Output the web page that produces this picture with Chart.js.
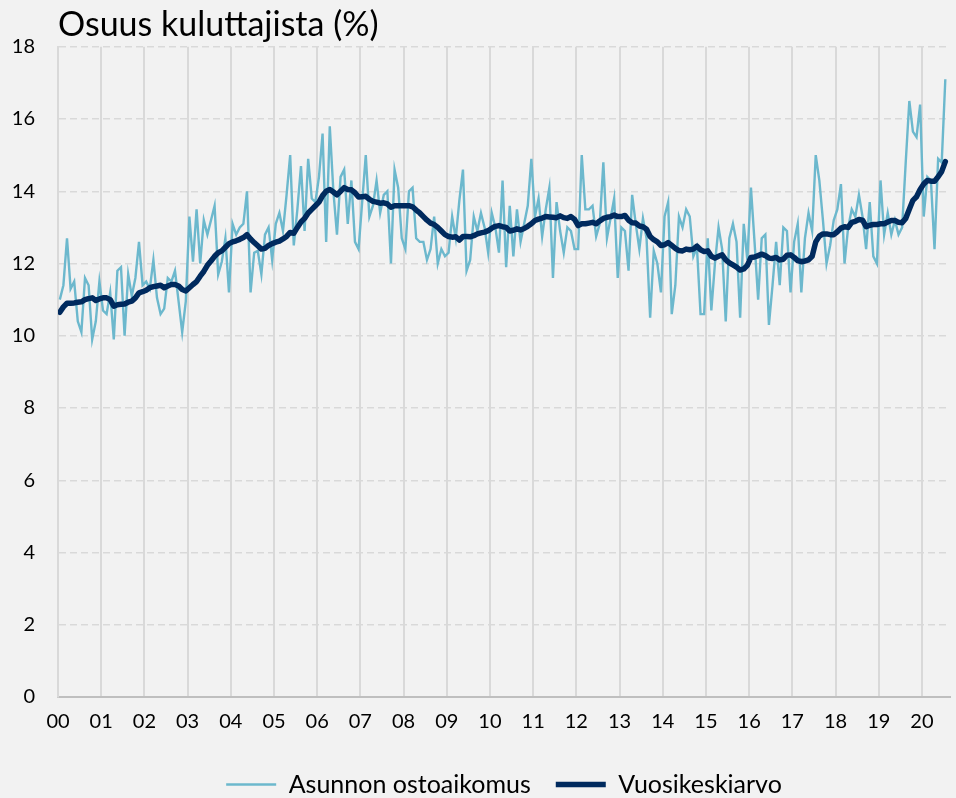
<!DOCTYPE html>
<html>
<head>
<meta charset="utf-8">
<script src="https://cdn.jsdelivr.net/npm/chart.js@4/dist/chart.umd.min.js"></script>
<style>
  html, body { margin: 0; padding: 0; background: #f2f2f2; }
  #wrap { width: 956px; height: 798px; }
</style>
</head>
<body>
<div id="wrap"><canvas id="c" width="956" height="798"></canvas></div>
<script>
// Year tick labels (January of each year)
const yearLabels = ['00','01','02','03','04','05','06','07','08','09','10','11','12','13','14','15','16','17','18','19','20'];

// Monthly series, Jan 2000 - Jul 2020
const asunnonOstoaikomus = [
  11.0, 11.4, 12.7, 11.3, 11.5, 10.4, 10.1, 11.6, 11.4, 9.9, 10.4, 11.5,
  10.7, 10.6, 11.2, 9.9, 11.8, 11.9, 10.0, 11.7, 11.1, 11.6, 12.6, 11.4,
  11.5, 11.3, 12.1, 11.05, 10.6, 10.75, 11.6, 11.5, 11.8, 10.95, 10.1, 10.95,
  13.3, 12.05, 13.5, 12.0, 13.2, 12.8, 13.2, 13.6, 11.7, 12.05, 12.7, 11.2,
  13.1, 12.8, 13.0, 13.1, 14.0, 11.2, 12.3, 12.35, 11.7, 12.8, 13.0, 12.1,
  13.1, 13.4, 12.9, 13.9, 15.0, 12.5, 13.5, 14.7, 12.9, 14.9, 13.8, 13.7,
  14.4, 15.6, 12.6, 15.8, 14.0, 12.8, 14.4, 14.6, 13.1, 14.3, 12.6, 12.4,
  13.7, 15.0, 13.3, 13.6, 14.3, 13.4, 13.9, 14.0, 12.0, 14.6, 14.1, 12.7,
  12.4, 14.0, 14.1, 12.7, 12.6, 12.6, 12.1, 12.4, 13.3, 12.0, 12.4, 12.2,
  12.3, 13.3, 12.7, 13.75, 14.6, 11.8, 12.1, 13.3, 12.9, 13.4, 13.0, 12.3,
  13.4, 13.0, 12.3, 14.3, 11.9, 13.6, 12.2, 13.5, 12.6, 13.1, 13.6, 14.9,
  13.3, 13.8, 12.75, 13.5, 14.1, 11.6, 13.7, 12.9, 12.3, 13.0, 12.9, 12.4,
  12.4, 15.0, 13.5, 13.5, 13.6, 12.75, 13.1, 14.8, 12.7, 13.25, 13.8, 11.6,
  13.0, 12.9, 11.8, 13.9, 13.1, 12.4, 13.25, 12.7, 10.5, 12.35, 12.0, 11.2,
  13.3, 13.7, 10.6, 11.4, 13.3, 13.0, 13.5, 13.3, 12.2, 12.45, 10.6, 10.6,
  12.7, 10.7, 12.0, 13.0, 12.4, 10.4, 12.7, 13.1, 12.6, 10.5, 13.1, 12.1,
  14.1, 12.6, 11.0, 12.7, 12.8, 10.3, 11.4, 12.6, 11.4, 13.0, 12.9, 11.2,
  12.6, 13.1, 11.2, 12.7, 13.4, 12.9, 15.0, 14.3, 13.2, 12.0, 12.5, 13.2,
  13.5, 14.2, 12.0, 13.0, 13.5, 13.3, 13.9, 13.3, 12.4, 13.7, 12.2, 12.0,
  14.3, 12.8, 13.4, 12.8, 13.2, 12.8, 13.0, 14.8, 16.5, 15.65, 15.5, 16.4,
  13.3, 14.4, 14.3, 12.4, 14.9, 14.8, 17.1
];

const vuosikeskiarvo = [
  10.65, 10.8, 10.9, 10.9, 10.91, 10.93, 10.94, 11.0, 11.03, 11.05, 10.98, 11.02,
  11.05, 11.05, 11.0, 10.82, 10.86, 10.87, 10.88, 10.93, 10.96, 11.05, 11.19, 11.22,
  11.26, 11.33, 11.36, 11.38, 11.4, 11.33, 11.38, 11.42, 11.42, 11.38, 11.28, 11.24,
  11.33, 11.42, 11.5, 11.65, 11.78, 11.95, 12.07, 12.2, 12.3, 12.35, 12.45, 12.55,
  12.6, 12.63, 12.67, 12.72, 12.8, 12.68, 12.58, 12.49, 12.4, 12.42, 12.5, 12.55,
  12.59, 12.62, 12.68, 12.75, 12.86, 12.84, 13.0, 13.15, 13.25, 13.4, 13.5, 13.6,
  13.7, 13.88, 14.0, 14.05, 13.98, 13.9, 14.0, 14.1, 14.05, 14.04, 13.96, 13.84,
  13.85, 13.86, 13.78, 13.72, 13.7, 13.67, 13.68, 13.65, 13.56, 13.6, 13.6, 13.6,
  13.6, 13.6, 13.57, 13.48, 13.4, 13.3, 13.2, 13.12, 13.08, 13.0, 12.9, 12.8,
  12.75, 12.73, 12.74, 12.65, 12.75, 12.75, 12.74, 12.77, 12.82, 12.85, 12.87, 12.91,
  12.98, 13.03, 13.05, 13.02, 13.0, 12.9, 12.92, 12.96, 12.93, 12.97, 13.03, 13.1,
  13.19, 13.23, 13.26, 13.3, 13.29, 13.28, 13.27, 13.32, 13.27, 13.25, 13.3, 13.22,
  13.05, 13.1, 13.1, 13.12, 13.14, 13.1, 13.18, 13.25, 13.28, 13.3, 13.34, 13.3,
  13.3, 13.33, 13.2, 13.13, 13.12, 13.04, 13.02, 12.95, 12.75, 12.66, 12.6, 12.5,
  12.52, 12.58, 12.5, 12.42, 12.36, 12.35, 12.4, 12.38, 12.4, 12.48, 12.38, 12.33,
  12.35, 12.2, 12.15, 12.2, 12.24, 12.1, 12.02, 11.96, 11.9, 11.82, 11.85, 11.95,
  12.17, 12.18, 12.22, 12.26, 12.22, 12.15, 12.14, 12.17, 12.1, 12.12, 12.23, 12.24,
  12.17, 12.08, 12.05, 12.07, 12.1, 12.2, 12.6, 12.76, 12.82, 12.82, 12.8, 12.8,
  12.88, 12.98, 13.02, 13.0, 13.14, 13.17, 13.22, 13.2, 13.02, 13.06, 13.08, 13.08,
  13.1, 13.1, 13.15, 13.19, 13.19, 13.14, 13.13, 13.25, 13.5, 13.75, 13.85, 14.05,
  14.2, 14.3, 14.28, 14.28, 14.4, 14.55, 14.82
];

const FONT = 'Lato';
const toPoints = arr => arr.map((v, i) => ({ x: i + 0.5, y: v }));

new Chart(document.getElementById('c'), {
  type: 'line',
  data: {
    datasets: [
      {
        label: 'Asunnon ostoaikomus',
        data: toPoints(asunnonOstoaikomus),
        borderColor: '#6cb8cd',
        backgroundColor: '#6cb8cd',
        borderWidth: 2.4,
        pointRadius: 0,
        tension: 0,
        order: 1
      },
      {
        label: 'Vuosikeskiarvo',
        data: toPoints(vuosikeskiarvo),
        borderColor: '#002a5e',
        backgroundColor: '#002a5e',
        borderWidth: 5.5,
        pointRadius: 0,
        tension: 0,
        borderJoinStyle: 'round',
        borderCapStyle: 'round',
        order: 0
      }
    ]
  },
  options: {
    responsive: false,
    animation: false,
    layout: { padding: { left: 0, right: 6, top: 0, bottom: -9 } },
    scales: {
      x: {
        type: 'linear',
        min: 0,
        max: 247.8,
        afterBuildTicks: s => { s.ticks = yearLabels.map((l, k) => ({ value: k * 12 })); },
        ticks: {
          autoSkip: false,
          maxRotation: 0,
          padding: 13,
          color: '#000',
          font: { family: FONT, size: 20 },
          callback: (v) => yearLabels[Math.round(v / 12)]
        },
        grid: { color: '#d9d9d9', lineWidth: 2, drawTicks: false },
        border: { display: true, color: '#bfbfbf', width: 2 }
      },
      y: {
        min: 0,
        max: 18,
        afterFit: s => { s.width = 58; },
        ticks: {
          stepSize: 2,
          padding: 23,
          color: '#000',
          font: { family: FONT, size: 20 }
        },
        grid: { color: '#d9d9d9', lineWidth: 1.5, drawTicks: false },
        border: { display: true, color: '#d9d9d9', width: 2, dash: [7, 4] }
      }
    },
    plugins: {
      title: {
        display: true,
        text: 'Osuus kuluttajista (%)',
        align: 'start',
        fullSize: false,
        color: '#000',
        font: { family: FONT, size: 34, weight: 'normal', lineHeight: 1.2 },
        padding: { top: 5, bottom: 1 }
      },
      legend: {
        position: 'bottom',
        fullSize: false,
        labels: {
          usePointStyle: true,
          pointStyle: 'line',
          pointStyleWidth: 50,
          color: '#000',
          font: { family: FONT, size: 25 },
          padding: 25,
          sort: (a, b) => a.datasetIndex - b.datasetIndex
        }
      },
      tooltip: { enabled: false }
    }
  }
});
</script>
</body>
</html>
